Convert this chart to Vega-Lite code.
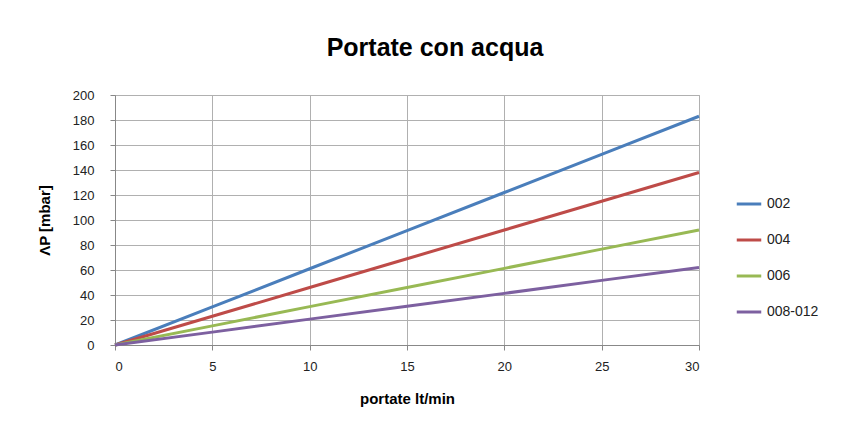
{
  "$schema": "https://vega.github.io/schema/vega-lite/v6.json",
  "width": 584,
  "height": 250,
  "autosize": "none",
  "padding": {"left": 115, "top": 95, "right": 167, "bottom": 85},
  "background": "white",
  "title": {
    "text": "Portate con acqua",
    "font": "Liberation Sans Narrow, Liberation Sans",
    "fontSize": 25,
    "fontWeight": "bold",
    "color": "#000000",
    "anchor": "middle",
    "dx": 28,
    "offset": 28
  },
  "data": {
    "values": [
      {"x": 0, "y": 0, "s": "002"}, {"x": 5, "y": 30.5, "s": "002"}, {"x": 10, "y": 61, "s": "002"}, {"x": 15, "y": 91.5, "s": "002"}, {"x": 20, "y": 122, "s": "002"}, {"x": 25, "y": 152.5, "s": "002"}, {"x": 30, "y": 183, "s": "002"},
      {"x": 0, "y": 0, "s": "004"}, {"x": 5, "y": 23, "s": "004"}, {"x": 10, "y": 46, "s": "004"}, {"x": 15, "y": 69, "s": "004"}, {"x": 20, "y": 92, "s": "004"}, {"x": 25, "y": 115, "s": "004"}, {"x": 30, "y": 138, "s": "004"},
      {"x": 0, "y": 0, "s": "006"}, {"x": 5, "y": 15.3, "s": "006"}, {"x": 10, "y": 30.7, "s": "006"}, {"x": 15, "y": 46, "s": "006"}, {"x": 20, "y": 61.3, "s": "006"}, {"x": 25, "y": 76.7, "s": "006"}, {"x": 30, "y": 92, "s": "006"},
      {"x": 0, "y": 0, "s": "008-012"}, {"x": 5, "y": 10.3, "s": "008-012"}, {"x": 10, "y": 20.7, "s": "008-012"}, {"x": 15, "y": 31, "s": "008-012"}, {"x": 20, "y": 41.3, "s": "008-012"}, {"x": 25, "y": 51.7, "s": "008-012"}, {"x": 30, "y": 62, "s": "008-012"}
    ]
  },
  "mark": {"type": "line", "strokeWidth": 3},
  "encoding": {
    "x": {
      "field": "x", "type": "quantitative",
      "scale": {"domain": [0, 30], "nice": false},
      "axis": {
        "title": "portate lt/min",
        "values": [0, 5, 10, 15, 20, 25, 30],
        "titleFont": "Liberation Sans", "titleFontSize": 15, "titleFontWeight": "bold", "titleColor": "#000000",
        "titlePadding": 18,
        "labelFont": "Liberation Sans", "labelFontSize": 13, "labelColor": "#222222",
        "labelPadding": 10,
        "tickSize": 5, "tickColor": "#888888", "domainColor": "#888888",
        "gridColor": "#b0b0b0", "gridWidth": 1
      }
    },
    "y": {
      "field": "y", "type": "quantitative",
      "scale": {"domain": [0, 200], "nice": false},
      "axis": {
        "title": "ΛP [mbar]",
        "values": [0, 20, 40, 60, 80, 100, 120, 140, 160, 180, 200],
        "titleFont": "Liberation Sans", "titleFontSize": 15, "titleFontWeight": "bold", "titleColor": "#000000",
        "titlePadding": 20,
        "labelFont": "Liberation Sans", "labelFontSize": 13, "labelColor": "#222222",
        "labelPadding": 16,
        "tickSize": 5, "tickColor": "#888888", "domainColor": "#888888",
        "gridColor": "#b0b0b0", "gridWidth": 1
      }
    },
    "color": {
      "field": "s", "type": "nominal",
      "scale": {"domain": ["002", "004", "006", "008-012"], "range": ["#4a7ebb", "#be4b48", "#98b954", "#7d60a0"]},
      "legend": {
        "title": null,
        "orient": "none",
        "legendX": 620,
        "legendY": 95,
        "symbolType": "stroke",
        "symbolSize": 600,
        "symbolStrokeWidth": 3,
        "rowPadding": 15,
        "labelFont": "Liberation Sans", "labelFontSize": 14, "labelColor": "#222222",
        "labelOffset": 4
      }
    }
  },
  "config": {"view": {"stroke": "#b0b0b0"}}
}
